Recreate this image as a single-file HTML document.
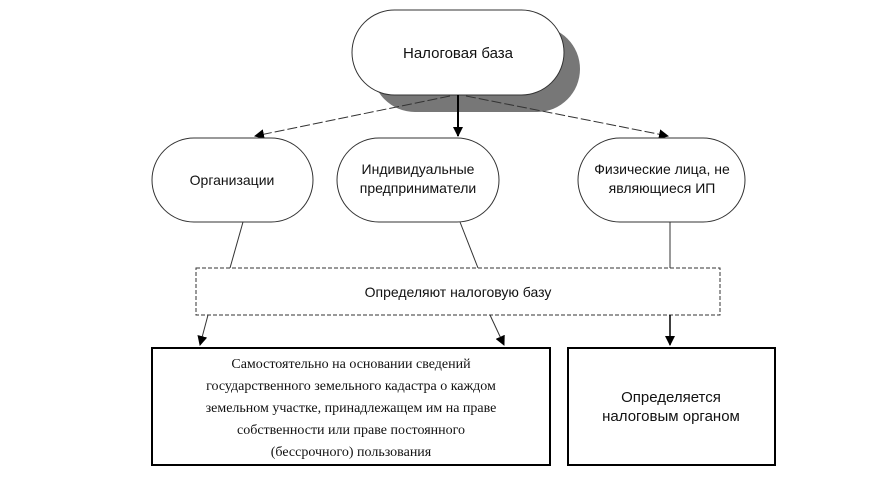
<!DOCTYPE html>
<html><head><meta charset="utf-8"><style>
body{margin:0;background:#fff}
svg text{font-family:"Liberation Sans",sans-serif;fill:#111}
</style></head><body>
<svg width="878" height="480" viewBox="0 0 878 480" xmlns="http://www.w3.org/2000/svg">
<defs><marker id="a" markerWidth="10" markerHeight="10" refX="9" refY="5" orient="auto" markerUnits="userSpaceOnUse"><path d="M0,0 L10,5 L0,10 z" fill="#000"/></marker></defs>
<rect x="372" y="26" width="208" height="86" rx="43" fill="#777"/>
<rect x="352" y="10" width="212" height="85" rx="42.5" fill="#fff" stroke="#333"/>
<text x="458" y="58" font-size="15" text-anchor="middle">Налоговая база</text>
<line x1="458" y1="95" x2="458" y2="136" stroke="#000" stroke-width="2" marker-end="url(#a)"/>
<line x1="450" y1="96" x2="255" y2="136" stroke="#333" stroke-dasharray="10,3" marker-end="url(#a)"/>
<line x1="466" y1="96" x2="668" y2="136" stroke="#333" stroke-dasharray="10,3" marker-end="url(#a)"/>
<rect x="152" y="138" width="161" height="84" rx="42" fill="#fff" stroke="#333"/>
<text x="232" y="185" font-size="14" text-anchor="middle">Организации</text>
<rect x="337" y="138" width="162" height="84" rx="42" fill="#fff" stroke="#333"/>
<text x="418" y="174" font-size="14" text-anchor="middle">Индивидуальные</text>
<text x="418" y="193" font-size="14" text-anchor="middle">предприниматели</text>
<rect x="578" y="138" width="167" height="84" rx="42" fill="#fff" stroke="#333"/>
<text x="662" y="174" font-size="14" text-anchor="middle">Физические лица, не</text>
<text x="662" y="193" font-size="14" text-anchor="middle">являющиеся ИП</text>
<line x1="243" y1="222" x2="230" y2="268" stroke="#333"/>
<line x1="460" y1="222" x2="478" y2="268" stroke="#333"/>
<line x1="670" y1="222" x2="670" y2="268" stroke="#333"/>
<rect x="196" y="268" width="524" height="47" fill="#fff" stroke="#333" stroke-dasharray="4,2"/>
<text x="458" y="297" font-size="14" text-anchor="middle">Определяют налоговую базу</text>
<line x1="208" y1="315" x2="200" y2="345" stroke="#333" marker-end="url(#a)"/>
<line x1="490" y1="315" x2="504" y2="345" stroke="#333" marker-end="url(#a)"/>
<line x1="670" y1="315" x2="670" y2="345" stroke="#000" stroke-width="1.5" marker-end="url(#a)"/>
<rect x="152" y="348" width="398" height="117" fill="#fff" stroke="#000" stroke-width="2"/>
<g font-family="Liberation Serif" font-size="14" text-anchor="middle">
<text x="351" y="368" style="font-family:'Liberation Serif',serif">Самостоятельно на основании сведений</text>
<text x="351" y="390" style="font-family:'Liberation Serif',serif">государственного земельного кадастра о каждом</text>
<text x="351" y="412" style="font-family:'Liberation Serif',serif">земельном участке, принадлежащем им на праве</text>
<text x="351" y="434" style="font-family:'Liberation Serif',serif">собственности или праве постоянного</text>
<text x="351" y="456" style="font-family:'Liberation Serif',serif">(бессрочного) пользования</text>
</g>
<rect x="568" y="348" width="207" height="117" fill="#fff" stroke="#000" stroke-width="2"/>
<text x="671" y="402" font-size="15" text-anchor="middle">Определяется</text>
<text x="671" y="421" font-size="15" text-anchor="middle">налоговым органом</text>
</svg>
</body></html>
